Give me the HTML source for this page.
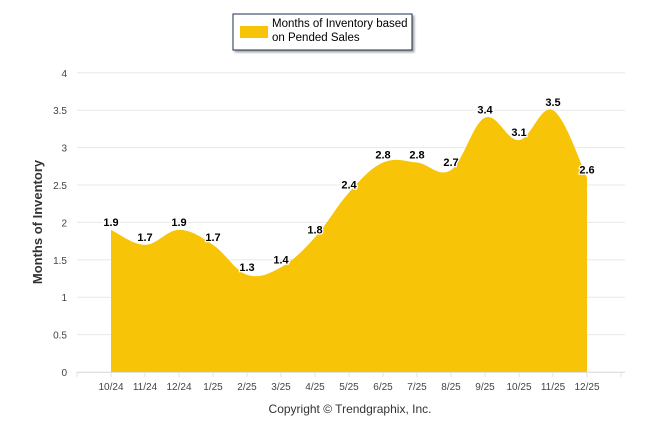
<!DOCTYPE html>
<html><head><meta charset="utf-8"><style>
body{margin:0;background:#fff;}
svg{display:block;font-family:"Liberation Sans",sans-serif;}
</style></head><body>
<svg id="c" width="646" height="434">
<defs><filter id="sh"><feDropShadow dx="2" dy="2" stdDeviation="1" flood-opacity="0.35"/></filter></defs>
<g>
<rect x="233" y="14" width="179" height="36" fill="#fff" stroke="#1f2f4f" stroke-width="1" filter="url(#sh)"/>
<rect x="240" y="26" width="28" height="12" fill="#F7C407"/>
<text x="272" y="27" font-size="11.5" fill="#000">Months of Inventory based</text>
<text x="272" y="41" font-size="11.5" fill="#000">on Pended Sales</text>
</g>
<text transform="translate(42,222) rotate(-90)" text-anchor="middle" font-size="13" font-weight="bold" fill="#333">Months of Inventory</text>
<text x="350" y="413" text-anchor="middle" font-size="12" fill="#333">Copyright © Trendgraphix, Inc.</text>
<g id="grid"></g><g id="area"></g><g id="labels"></g><g id="xaxis"></g>
</svg>
<script>
const categories=["10/24","11/24","12/24","1/25","2/25","3/25","4/25","5/25","6/25","7/25","8/25","9/25","10/25","11/25","12/25"];
const values=[1.9,1.7,1.9,1.7,1.3,1.4,1.8,2.4,2.8,2.8,2.7,3.4,3.1,3.5,2.6];
const yTicks=[0,0.5,1,1.5,2,2.5,3,3.5,4];
const NS="http://www.w3.org/2000/svg";
const x0=77,step=34,yZero=372,yPer=74.8,xEnd=625;
const xs=i=>x0+step*(i+1);
const ys=v=>yZero-v*yPer;
function mk(t,a,p){const e=document.createElementNS(NS,t);for(const k in a)e.setAttribute(k,a[k]);p.appendChild(e);return e;}
const grid=document.getElementById('grid');
yTicks.forEach(v=>{
 const l=mk('line',{x1:x0,x2:xEnd,y1:ys(v),y2:ys(v),stroke:'#e8e8e8','stroke-width':1},grid);
 
 
 const t=mk('text',{x:67,y:ys(v)+4,'text-anchor':'end','font-size':10,fill:'#444'},grid);
 t.textContent=v;
 
 
});
// smooth path (catmull-rom)
const pts=values.map((v,i)=>[xs(i),ys(v)]);
let d=`M${pts[0][0]},${yZero}L${pts[0][0]},${pts[0][1]}`;
for(let i=0;i<pts.length-1;i++){
 const p0=pts[Math.max(0,i-1)],p1=pts[i],p2=pts[i+1],p3=pts[Math.min(pts.length-1,i+2)];
 const t=0.18;
 const c1=[p1[0]+(p2[0]-p0[0])*t,p1[1]+(p2[1]-p0[1])*t];
 const c2=[p2[0]-(p3[0]-p1[0])*t,p2[1]-(p3[1]-p1[1])*t];
 d+=`C${c1[0]},${c1[1]} ${c2[0]},${c2[1]} ${p2[0]},${p2[1]}`;
}
d+=`L${pts[pts.length-1][0]},${yZero}Z`;
const area=mk('path',{d:d,fill:'#F7C407'},document.getElementById('area'));


const lab=document.getElementById('labels');
values.forEach((v,i)=>{
 const t=mk('text',{x:xs(i),y:ys(v)-4,'text-anchor':'middle','font-size':11,'font-weight':'bold',fill:'#000',stroke:'#fff','stroke-width':2.5,'paint-order':'stroke'},lab);
 t.textContent=v;
 
 
});
const xa=document.getElementById('xaxis');
const al=mk('line',{x1:x0,x2:xEnd,y1:yZero+0.5,y2:yZero+0.5,stroke:'#e0e0e0'},xa);


for(let k=0;k<=16;k++){
 const tk=mk('line',{x1:x0+step*k,x2:x0+step*k,y1:yZero,y2:yZero+5,stroke:'#e0e0e0'},xa);
 
 
}
categories.forEach((c,i)=>{
 const t=mk('text',{x:xs(i),y:390,'text-anchor':'middle','font-size':10,fill:'#444'},xa);
 t.textContent=c;
 
 
});
</script>
</body></html>
